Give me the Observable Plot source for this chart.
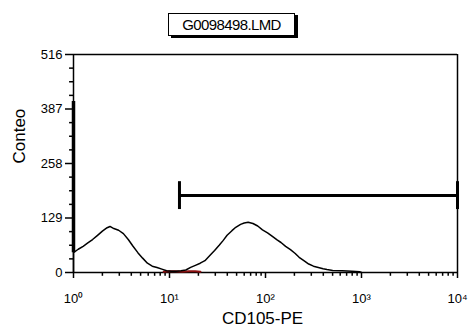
<!DOCTYPE html>
<html>
<head>
<meta charset="utf-8">
<script src="https://cdn.jsdelivr.net/npm/d3@7"></script>
<script src="https://cdn.jsdelivr.net/npm/@observablehq/plot@0.6"></script>
<style>
  html, body { margin: 0; padding: 0; background: #fff; }
  #wrap { position: relative; width: 472px; height: 333px; font-family: "Liberation Sans", Arial, sans-serif; }
  #title {
    position: absolute; left: 168px; top: 13px; width: 125px; height: 21px;
    border: 1.5px solid #000; box-shadow: 3px 2px 0 #000; background: #fff;
    font-size: 15px; line-height: 21px; text-align: center; letter-spacing: -0.6px; color: #000;
  }
</style>
</head>
<body>
<div id="wrap"><div id="title"></div></div>
<script>
// Sample file name shown in the header box
const fileName = "G0098498.LMD";

// CD105-PE fluorescence (log channel value) and event counts for the stained sample
const fluor = [1, 1, 1, 1.12, 1.26, 1.41, 1.58, 1.78, 2.0, 2.24, 2.4, 2.63, 2.95, 3.31, 3.72, 4.17, 4.68,
  5.25, 5.89, 6.61, 7.41, 8.32, 9.33, 10.5, 11.7, 13.2, 14.8, 16.6, 18.6, 20.9, 23.4, 26.3, 29.5,
  33.1, 36.3, 39.8, 44.7, 49, 55, 60, 66, 74, 83, 93, 105, 117, 132, 145, 162, 182, 204, 224,
  251, 282, 316, 355, 398, 437, 501, 631, 794, 955, 1000];
const counts = [0, 405, 47, 55, 62, 70, 78, 88, 98, 106, 109, 104, 100, 92, 78, 62,
  47, 34, 22, 15, 12, 8, 4, 3, 3, 4, 6, 12, 17, 22, 28, 40,
  52, 65, 76, 88, 99, 107, 114, 117, 119, 116, 110, 101, 94, 86, 77, 71, 62, 54, 45,
  36, 28, 20, 15, 12, 9, 7, 5, 4, 3, 2, 0];

// Control events near the baseline
const ctrlFluor = [8.7, 10, 11.5, 13.5, 16, 18.5, 21];
const ctrlCounts = [2, 3, 3, 2, 3, 3, 2];

// Positive-region gate (marker bar)
const gateLo = 12.7;
const gateHi = 10000;
const gateLevel = 182;
const gateCapLo = 149;
const gateCapHi = 215;

// Axis ticks and labels
const xMajor = [1, 10, 100, 1000, 10000];
const xLabels = ["10⁰", "10¹", "10²", "10³", "10⁴"];
const xMinor = [2, 3, 4, 5, 6, 7, 8, 9, 20, 30, 40, 50, 60, 70, 80, 90,
  200, 300, 400, 500, 600, 700, 800, 900, 2000, 3000, 4000, 5000, 6000, 7000, 8000, 9000];
const yMajor = [0, 129, 258, 387, 516];
const yMinor = [32.25, 64.5, 96.75, 161.25, 193.5, 225.75, 290.25, 322.5, 354.75, 419.25, 451.5, 483.75];
const yTitle = "Conteo";
const xTitle = "CD105-PE";

document.getElementById("title").textContent = fileName;

const hist = fluor.map((x, i) => ({x, y: counts[i]}));
const ctrl = ctrlFluor.map((x, i) => ({x, y: ctrlCounts[i]}));
// first channel pile-up, drawn heavier so it stands out on the axis line
const firstChannel = [{x: fluor[1], y1: counts[2], y2: counts[1]}];

const chart = Plot.plot({
  width: 472,
  height: 333,
  marginLeft: 73,
  marginRight: 15,
  marginTop: 54,
  marginBottom: 61,
  style: {fontFamily: "'Liberation Sans', Arial, sans-serif", background: "transparent", color: "#000"},
  x: {type: "log", domain: [1, 10000]},
  y: {domain: [0, 516]},
  marks: [
    // frame
    Plot.ruleY([516], {strokeWidth: 1.5}),
    Plot.ruleX([10000], {strokeWidth: 1.5}),
    Plot.ruleY([0], {strokeWidth: 1.5}),
    Plot.ruleX([1], {strokeWidth: 1.5}),
    // minor ticks, just outside the frame
    Plot.ruleX(xMinor, {y1: 0, y2: -9, strokeWidth: 1.5, clip: false}),
    Plot.ruleY(yMinor, {x1: 0.91, x2: 1, strokeWidth: 1.5, clip: false}),
    // major axes
    Plot.axisY({ticks: yMajor, tickSize: 8, tickPadding: 3, tickFormat: d => String(d), label: null, fontSize: 13, strokeWidth: 1.5}),
    Plot.axisX({ticks: xMajor, tickSize: 6, tickPadding: 15, tickFormat: d => xLabels[xMajor.indexOf(d)], label: null, fontSize: 13, strokeWidth: 1.5}),
    Plot.text([yTitle], {frameAnchor: "left", rotate: -90, dx: -54, fontSize: 17}),
    Plot.text([xTitle], {frameAnchor: "bottom", dy: 51, dx: -3, fontSize: 17}),
    // histograms
    Plot.line(ctrl, {x: "x", y: "y", stroke: "#8b1010", strokeWidth: 2}),
    Plot.line(hist, {x: "x", y: "y", stroke: "#000", strokeWidth: 1.5}),
    Plot.ruleX(firstChannel, {x: "x", y1: "y1", y2: "y2", strokeWidth: 3.5}),
    // gate marker
    Plot.ruleY([gateLevel], {x1: gateLo, x2: gateHi, strokeWidth: 3}),
    Plot.ruleX([gateLo, gateHi], {y1: gateCapLo, y2: gateCapHi, strokeWidth: 3})
  ]
});
chart.style.position = "absolute";
chart.style.left = "0";
chart.style.top = "0";
const wrap = document.getElementById("wrap");
wrap.insertBefore(chart, wrap.firstChild);
</script>
</body>
</html>
